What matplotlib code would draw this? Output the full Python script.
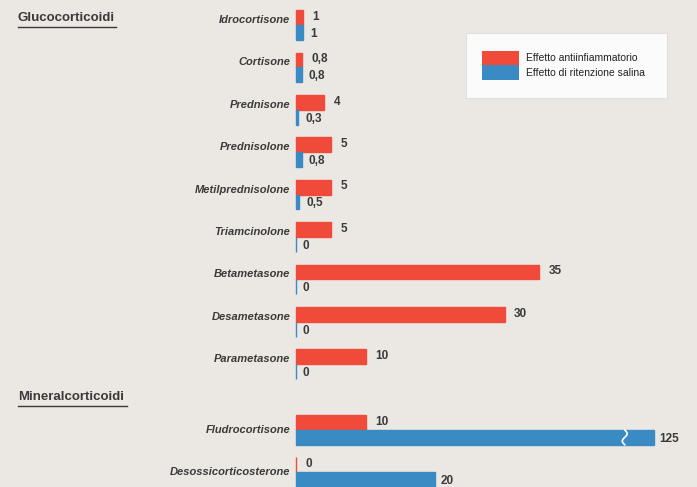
import matplotlib.pyplot as plt
import numpy as np
from matplotlib.patches import Rectangle
from matplotlib.transforms import offset_copy

plt.rcParams['font.family'] = ['Liberation Sans', 'DejaVu Sans']

gluco = ['Idrocortisone', 'Cortisone', 'Prednisone', 'Prednisolone', 'Metilprednisolone',
         'Triamcinolone', 'Betametasone', 'Desametasone', 'Parametasone']
mineral = ['Fludrocortisone', 'Desossicorticosterone']

antiinf = [1, 0.8, 4, 5, 5, 5, 35, 30, 10, 10, 0]
ritenz = [1, 0.8, 0.3, 0.8, 0.5, 0, 0, 0, 0, 125, 20]

red = '#ef4a3a'
blue = '#3a8ac4'
bg = '#ebe8e3'
txt = '#3a3a3a'

names = gluco + mineral
pos = np.concatenate([np.arange(len(gluco)), len(gluco) + 0.55 + np.arange(len(mineral))])

cap = 51.5   # bars longer than this are drawn broken
fmt = lambda v: ('%g' % v).replace('.', ',')

fig = plt.figure(figsize=(6.97, 4.87), dpi=100)
fig.patch.set_facecolor(bg)
ax = fig.add_axes([0, 0, 1, 1])
ax.set_facecolor(bg)
ax.set_xlim(-296 / 6.95, (697 - 296) / 6.95)
ax.set_ylim((487 - 25) / 42.4, -25 / 42.4)
ax.axis('off')

h = 0.35
shown = np.minimum(ritenz, cap)
ax.barh(pos - h / 2, antiinf, height=h, color=red, edgecolor=red, linewidth=1)
ax.barh(pos + h / 2, shown, height=h, color=blue, edgecolor=blue, linewidth=1)

# value labels
for p, a, r, s in zip(pos, antiinf, ritenz, shown):
    ax.annotate(fmt(a), (a, p - h / 2), xytext=(7, 0.5), textcoords='offset points',
                fontsize=8.5, fontweight='bold', color=txt, va='center')
    ax.annotate(fmt(r), (s, p + h / 2), xytext=(4 if r > 2 else 5, -1), textcoords='offset points',
                fontsize=8.5, fontweight='bold', color=txt, va='center')
    if r > cap:
        xb = cap - 4.2
        yy = np.linspace(p, p + h, 20)
        ax.plot(xb + 0.35 * np.sin((yy - p) / h * 2 * np.pi), yy, color='white', lw=1.2)

# category labels
lt = offset_copy(ax.transData, fig=fig, x=-4, y=0, units='points')
for i, (p, n) in enumerate(zip(pos, names)):
    dy = -0.12 if i < len(gluco) else 0.0
    ax.text(0, p + dy, n, transform=lt, ha='right', va='center', fontsize=8,
            fontweight='bold', fontstyle='italic', color=txt)

# group headings
fig.text(18 / 697, 1 - 18 / 487, 'Glucocorticoidi', fontsize=9.5, fontweight='bold',
         color=txt, va='center')
fig.add_artist(plt.Line2D([18 / 697, 116 / 697], [1 - 27 / 487] * 2, color=txt, lw=1))
fig.text(18 / 697, 1 - 397 / 487, 'Mineralcorticoidi', fontsize=9.5, fontweight='bold',
         color=txt, va='center')
fig.add_artist(plt.Line2D([18 / 697, 127 / 697], [1 - 406 / 487] * 2, color=txt, lw=1))

# legend box
fig.add_artist(Rectangle((466 / 697, 1 - 98 / 487), 201 / 697, 65 / 487, transform=fig.transFigure,
                         facecolor='#fbfbfb', edgecolor='#e0e0e0', lw=0.8))
fig.add_artist(Rectangle((482 / 697, 1 - 65 / 487), 37 / 697, 14 / 487, transform=fig.transFigure,
                         facecolor=red, edgecolor='none'))
fig.add_artist(Rectangle((482 / 697, 1 - 80 / 487), 37 / 697, 15 / 487, transform=fig.transFigure,
                         facecolor=blue, edgecolor='none'))
fig.text(526 / 697, 1 - 58 / 487, 'Effetto antiinfiammatorio', fontsize=7.5, color='#222222', va='center')
fig.text(526 / 697, 1 - 73 / 487, 'Effetto di ritenzione salina', fontsize=7.5, color='#222222', va='center')

fig.savefig('out.png', dpi=100, facecolor=bg)
